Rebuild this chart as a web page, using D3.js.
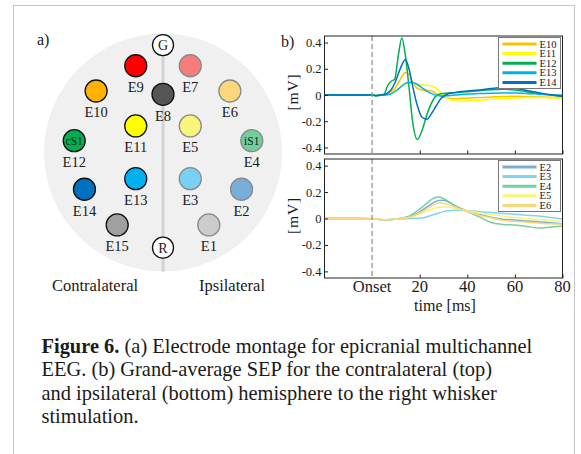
<html>

<head>
    <meta charset="utf-8">
    <title>Figure 6</title>
    <script src="https://d3js.org/d3.v7.min.js"></script>
    <style>
        body { margin: 0; background: #fff; }
        text { font-family: "Liberation Serif", "Times New Roman", serif; fill: #1a1a1a; }
    </style>
</head>

<body>
    <script>
        // montage, head coordinates (-1..1, y pointing down)
        const electrodes = ['G', 'E9', 'E7', 'E10', 'E8', 'E6', 'E11', 'E5', 'E12', 'E4', 'E13', 'E3', 'E14', 'E2', 'E15', 'E1', 'R']
        const headX = [0, -0.229, 0.229, -0.562, 0, 0.562, -0.229, 0.229, -0.746, 0.746, -0.229, 0.229, -0.66, 0.66, -0.385, 0.385, 0]
        const headY = [-0.903, -0.729, -0.729, -0.517, -0.489, -0.517, -0.223, -0.223, -0.099, -0.099, 0.22, 0.22, 0.309, 0.309, 0.609, 0.609, 0.8]
        const electrodeColors = ['#ffffff', '#ff0000', '#f47c7c', '#ffb300', '#555555', '#fad77b', '#ffff00', '#f7f57a',
            '#00b050', '#70cf9c', '#00b0f0', '#79d0f2', '#0070c0', '#78aed8', '#a0a0a0', '#cccccc', '#ffffff']
        const innerLabels = { E12: 'cS1', E4: 'iS1' }

        // SEP traces, time in ms, amplitude in mV
        const timesTop = [-20, -5, 0, 1.5, 3, 5, 6.5, 8, 9.5, 11, 12.5, 14, 15.5, 17, 19, 21, 23, 25, 27, 29, 32, 35, 40, 45, 50, 55, 60, 65, 70, 75, 80]
        const topNames = ['E10', 'E11', 'E12', 'E13', 'E14']
        const topColors = ['#ffc000', '#ffff00', '#00b050', '#00b0f0', '#0070c0']
        const e10 = [0, 0, 0, -0.004, -0.002, 0.002, 0.01, 0.025, 0.05, 0.09, 0.14, 0.172, 0.16, 0.1, 0.05, 0.038, 0.035, 0.03, 0.01, -0.01, -0.025, -0.028, -0.025, -0.02, -0.015, -0.012, -0.01, -0.012, -0.015, -0.018, -0.02]
        const e11 = [0, 0, 0, -0.004, -0.002, 0.002, 0.006, 0.015, 0.03, 0.05, 0.07, 0.085, 0.09, 0.088, 0.082, 0.078, 0.075, 0.068, 0.05, 0.015, -0.03, -0.045, -0.045, -0.04, -0.033, -0.027, -0.022, -0.02, -0.02, -0.022, -0.024]
        const e12 = [0, 0, 0, -0.005, 0, 0.005, 0.07, 0.105, 0.12, 0.3, 0.435, 0.3, 0.06, -0.2, -0.34, -0.27, -0.15, -0.06, -0.005, 0.01, 0.015, 0.018, 0.025, 0.033, 0.04, 0.044, 0.038, 0.025, 0.012, 0, -0.01]
        const e13 = [0, 0, 0, -0.004, -0.003, -0.002, 0.002, 0.01, 0.025, 0.045, 0.068, 0.088, 0.098, 0.095, 0.08, 0.055, 0.03, 0.01, -0.003, -0.008, -0.005, 0, 0.008, 0.012, 0.014, 0.015, 0.015, 0.012, 0.006, 0.002, 0]
        const e14 = [0, 0, 0, -0.005, -0.002, 0.003, 0.015, 0.04, 0.09, 0.16, 0.23, 0.27, 0.2, 0.07, -0.08, -0.17, -0.185, -0.14, -0.08, -0.025, 0.01, 0.02, 0.03, 0.038, 0.05, 0.058, 0.05, 0.035, 0.018, 0.002, -0.01]

        const timesBottom = [-20, -5, 0, 2, 4, 6, 8, 10, 12, 14, 16, 18, 20, 22, 24, 26, 28, 30, 32, 35, 38, 41, 45, 50, 55, 60, 65, 70, 75, 80]
        const bottomNames = ['E2', 'E3', 'E4', 'E5', 'E6']
        const bottomColors = ['#7aadd6', '#80d3f5', '#73d19e', '#f8f47a', '#f9d67a']
        const e2 = [0, 0, -0.002, -0.004, -0.009, -0.01, -0.007, -0.003, 0, 0.005, 0.015, 0.03, 0.05, 0.075, 0.1, 0.122, 0.137, 0.138, 0.125, 0.095, 0.07, 0.048, 0.03, 0.01, -0.005, -0.012, -0.018, -0.025, -0.033, -0.04]
        const e3 = [0, 0, -0.002, -0.004, -0.01, -0.012, -0.01, -0.006, -0.004, -0.002, 0, 0.002, 0.003, 0.008, 0.018, 0.03, 0.042, 0.052, 0.058, 0.063, 0.062, 0.058, 0.052, 0.045, 0.038, 0.032, 0.025, 0.018, 0.008, -0.003]
        const e4 = [0, 0, -0.002, -0.004, -0.01, -0.012, -0.008, -0.003, 0.002, 0.01, 0.022, 0.045, 0.07, 0.1, 0.13, 0.155, 0.162, 0.15, 0.13, 0.095, 0.068, 0.045, 0.012, -0.03, -0.045, -0.05, -0.06, -0.072, -0.065, -0.058]
        const e5 = [0, 0, -0.002, -0.004, -0.009, -0.01, -0.007, -0.003, 0, 0.003, 0.01, 0.02, 0.032, 0.048, 0.064, 0.077, 0.085, 0.088, 0.085, 0.075, 0.065, 0.055, 0.042, 0.03, 0.018, 0.008, 0, -0.008, -0.015, -0.02]
        const e6 = [0, 0, -0.002, -0.004, -0.009, -0.01, -0.007, -0.003, 0, 0.004, 0.012, 0.025, 0.042, 0.062, 0.085, 0.105, 0.118, 0.115, 0.105, 0.085, 0.065, 0.047, 0.025, 0.005, -0.015, -0.022, -0.028, -0.035, -0.04, -0.042]

        const yTicks = [-0.4, -0.2, 0, 0.2, 0.4]
        const yTickLabels = ['-0.4', '-0.2', '0', '0.2', '0.4']
        const xTicks = [0, 20, 40, 60, 80]
        const xTickLabels = ['Onset', '20', '40', '60', '80']

        const captionLines = [
            ['Figure 6.', ' (a) Electrode montage for epicranial multichannel'],
            ['', 'EEG. (b) Grand-average SEP for the contralateral (top)'],
            ['', 'and ipsilateral (bottom) hemisphere to the right whisker'],
            ['', 'stimulation.']
        ]

        const svg = d3.select('body').append('svg')
            .attr('width', 581)
            .attr('height', 454)

        svg.append('rect')
            .attr('x', 13.5).attr('y', 5.5)
            .attr('width', 561).attr('height', 460)
            .attr('fill', 'none')
            .attr('stroke', '#c4c4c4')

        // ---- a) montage ----
        const headCx = 163, headCy = 152.5, headR = 119
        const hx = d3.scaleLinear().domain([-1, 1]).range([headCx - headR, headCx + headR])
        const hy = d3.scaleLinear().domain([-1, 1]).range([headCy - headR, headCy + headR])

        svg.append('text').attr('x', 37).attr('y', 45).attr('font-size', 16).text('a)')

        const montage = svg.append('g')

        montage.append('circle')
            .attr('cx', hx(0)).attr('cy', hy(0)).attr('r', headR)
            .attr('fill', '#f0f0f0')

        montage.append('line')
            .attr('x1', hx(0)).attr('x2', hx(0))
            .attr('y1', hy(headY[0])).attr('y2', hy(1))
            .attr('stroke', '#d2d2d2')
            .attr('stroke-width', 3)

        const nodes = montage.selectAll('g.electrode')
            .data(electrodes)
            .enter()
            .append('g')
            .attr('class', 'electrode')
            .attr('transform', (d, i) => 'translate(' + hx(headX[i]) + ',' + hy(headY[i]) + ')')

        nodes.append('circle')
            .attr('r', (d, i) => (d === 'G' || d === 'R') ? 10.5 : 11)
            .attr('fill', (d, i) => electrodeColors[i])
            .attr('stroke', (d, i) => headX[i] > 0 && d !== 'R' ? '#8a8a8a' : '#111')
            .attr('stroke-width', 1.3)

        nodes.filter(d => d === 'G' || d === 'R').append('text')
            .attr('text-anchor', 'middle')
            .attr('y', 5)
            .attr('font-size', 14)
            .text(d => d)

        nodes.filter(d => innerLabels[d]).append('text')
            .attr('text-anchor', 'middle')
            .attr('y', 4)
            .attr('font-size', 11.5)
            .text(d => innerLabels[d])

        nodes.filter(d => d !== 'G' && d !== 'R').append('text')
            .attr('text-anchor', 'middle')
            .attr('y', 26.5)
            .attr('font-size', 14.5)
            .attr('fill', '#222')
            .text(d => d)

        svg.append('text').attr('x', 95).attr('y', 290.5).attr('text-anchor', 'middle').attr('font-size', 16.5).text('Contralateral')
        svg.append('text').attr('x', 232).attr('y', 290.5).attr('text-anchor', 'middle').attr('font-size', 16.5).text('Ipsilateral')

        // ---- b) SEP traces ----
        svg.append('text').attr('x', 281).attr('y', 47).attr('font-size', 16).text('b)')

        const x = d3.scaleLinear().domain([-20, 80]).range([324.5, 562.5])

        function panel(top, bottom, times, series, names, colors, withX) {
            const y = d3.scaleLinear().domain([-0.45, 0.45]).range([bottom, top])
            const g = svg.append('g')

            g.append('rect')
                .attr('x', x(-20)).attr('y', top)
                .attr('width', x(80) - x(-20)).attr('height', bottom - top)
                .attr('fill', '#fff')

            const line = d3.line()
                .x((d, i) => x(times[i]))
                .y(d => y(d))
                .curve(d3.curveMonotoneX)

            g.selectAll('path.trace')
                .data(series)
                .enter()
                .append('path')
                .attr('class', 'trace')
                .attr('d', line)
                .attr('fill', 'none')
                .attr('stroke', (d, i) => colors[i])
                .attr('stroke-width', 1.5)

            g.append('line')
                .attr('x1', x(0)).attr('x2', x(0))
                .attr('y1', top).attr('y2', bottom)
                .attr('stroke', '#999')
                .attr('stroke-width', 1.4)
                .attr('stroke-dasharray', '5,3')

            const yAxis = d3.axisLeft(y).tickValues(yTicks).tickSizeInner(-3.5).tickSizeOuter(0)
                .tickFormat((d, i) => yTickLabels[i])
            const ya = g.append('g').attr('transform', 'translate(' + x(-20) + ',0)').call(yAxis)
            ya.select('.domain').remove()
            ya.selectAll('text').attr('x', -3).attr('font-size', 12.5).attr('font-family', '"Liberation Serif", serif').attr('fill', '#1a1a1a')
            ya.selectAll('line').attr('stroke', '#222')

            const xAxis = d3.axisBottom(x).tickValues(xTicks.slice(1)).tickSizeInner(-3.5).tickSizeOuter(0).tickFormat('')
            const xa = g.append('g').attr('transform', 'translate(0,' + bottom + ')').call(xAxis)
            xa.select('.domain').remove()
            xa.selectAll('line').attr('stroke', '#222')

            if (withX) {
                g.selectAll('text.xlab')
                    .data(xTicks)
                    .enter()
                    .append('text')
                    .attr('class', 'xlab')
                    .attr('x', d => x(d))
                    .attr('y', bottom + 13.5)
                    .attr('text-anchor', 'middle')
                    .attr('font-size', 16.5)
                    .text((d, i) => xTickLabels[i])
            }

            g.append('rect')
                .attr('x', x(-20)).attr('y', top)
                .attr('width', x(80) - x(-20)).attr('height', bottom - top)
                .attr('fill', 'none')
                .attr('stroke', '#222')
                .attr('stroke-width', 1)

            g.append('text')
                .attr('transform', 'translate(298,' + ((top + bottom) / 2 - 3) + ') rotate(-90)')
                .attr('text-anchor', 'middle')
                .attr('font-size', 15.5)
                .attr('letter-spacing', 0.8)
                .text('[mV]')

            // legend
            const lx = 498.5, ly = top + 1.5, lh = 9.6
            const leg = g.append('g')
            leg.append('rect')
                .attr('x', lx).attr('y', ly)
                .attr('width', 62).attr('height', names.length * lh + 3)
                .attr('fill', '#fff')
                .attr('stroke', '#777')
                .attr('stroke-width', 1)
            const items = leg.selectAll('g.item')
                .data(names)
                .enter()
                .append('g')
                .attr('transform', (d, i) => 'translate(' + lx + ',' + (ly + 6.5 + i * lh) + ')')
            items.append('line')
                .attr('x1', 4).attr('x2', 38)
                .attr('stroke', (d, i) => colors[i])
                .attr('stroke-width', 3)
            items.append('text')
                .attr('x', 41).attr('y', 3.6)
                .attr('font-size', 10.5)
                .text(d => d)
        }

        panel(36, 154, timesTop, [e10, e11, e12, e13, e14], topNames, topColors, false)
        panel(159, 278, timesBottom, [e2, e3, e4, e5, e6], bottomNames, bottomColors, true)

        svg.append('text')
            .attr('x', 445).attr('y', 311)
            .attr('text-anchor', 'middle')
            .attr('font-size', 16)
            .text('time [ms]')

        // ---- caption ----
        const caption = svg.append('g')
        captionLines.forEach((parts, i) => {
            const t = caption.append('text')
                .attr('x', 41.5)
                .attr('y', 353 + i * 23.4)
                .attr('font-size', 19)
            if (parts[0]) t.append('tspan').attr('font-weight', 'bold').text(parts[0])
            t.append('tspan').text(parts[1])
        })
        // fit first line to its width in the figure
        const w0 = caption.select('text').node().getComputedTextLength()
        caption.selectAll('text').attr('font-size', 19 * 491 / w0)
    </script>
</body>

</html>
